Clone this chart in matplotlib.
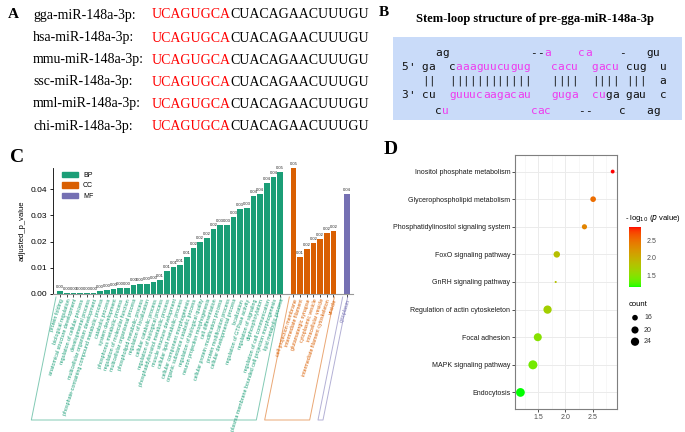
import numpy as np
import matplotlib
matplotlib.use('Agg')
import matplotlib.pyplot as plt
from matplotlib.colors import ListedColormap, Normalize
from matplotlib.patches import Rectangle, Patch

W, H = 685, 432

# ---- panel A: mature sequences
species = ['gga', 'hsa', 'mmu', 'ssc', 'mml', 'chi']
seed = 'UCAGUGCA'
rest = 'CUACAGAACUUUGU'

# ---- panel B: stem-loop rows (monospace columns) and pink column ranges
stem_rows = ["     ag" + " " * 12 + "--a" + " " * 4 + "ca" + " " * 4 + "-" + " " * 3 + "gu",
             "5' ga  caaaguucugug   cacu  gacu cug  u",
             "   ||  ||||||||||||   ||||  |||| |||  a",
             "3' cu  guuucaagacau   guga  cuga gau  c",
             "     cu" + " " * 12 + "cac" + " " * 4 + "--" + " " * 4 + "c" + " " * 3 + "ag"]
stem_pink = [[(21, 21), (26, 27)],
             [(8, 18), (22, 25), (28, 31)],
             [],
             [(7, 18), (22, 25), (28, 29)],
             [(6, 6), (19, 21)]]

# ---- panel C: GO enrichment
bp_terms = ['protein folding', 'biological regulation', 'anatomical structure development',
            'regulation of cellular process', 'developmental process',
            'multicellular organism development', 'phosphate-containing compound metabolic process',
            'catabolic process', 'system development', 'phosphorus metabolic process',
            'regulation of molecular function', 'multicellular organismal process',
            'phospholipid metabolic process', 'regulation of localization',
            'cellular catabolic process', 'regulation of biological process',
            'phosphatidylinositol metabolic process', 'muscle structure development',
            'cellular lipid metabolic process', 'cellular component morphogenesis',
            'organic substance catabolic process', 'regulation of biological quality',
            'neuron projection morphogenesis', 'cell differentiation',
            'cellular protein modification process', 'protein modification process',
            'cellular developmental process', 'localization', 'regulation of GTPase activity',
            'regulation of signaling', 'dephosphorylation', 'regulation of cell communication',
            'plasma membrane bounded cell projection morphogenesis', 'lipid metabolic process']
bp_vals = [0.0013, 0.0003, 0.0003, 0.0003, 0.0003, 0.0003, 0.0013, 0.0014, 0.0019, 0.0024,
           0.0024, 0.0036, 0.0037, 0.0040, 0.0045, 0.0055, 0.0089, 0.0102, 0.0110, 0.0140,
           0.0175, 0.0198, 0.0213, 0.0247, 0.0263, 0.0263, 0.0295, 0.0324, 0.0328, 0.0375,
           0.0383, 0.0425, 0.0448, 0.0466]
cc_terms = ['cell projection membrane', 'intermediate filament', 'glutamatergic synapse',
            'cytoplasmic vesicle', 'intracellular vesicle', 'intermediate filament cytoskeleton',
            'vesicle']
cc_vals = [0.0482, 0.0140, 0.0171, 0.0193, 0.0210, 0.0233, 0.0240]
mf_terms = ['cytoplasm']
mf_vals = [0.0380]

# ---- panel D: KEGG pathways (top to bottom)
pathways = ['Inositol phosphate metabolism', 'Glycerophospholipid metabolism',
            'Phosphatidylinositol signaling system', 'FoxO signaling pathway',
            'GnRH signaling pathway', 'Regulation of actin cytoskeleton', 'Focal adhesion',
            'MAPK signaling pathway', 'Endocytosis']
neglogp = [2.87, 2.51, 2.35, 1.84, 1.82, 1.67, 1.49, 1.40, 1.17]
counts = [13, 16, 15, 18, 12, 24, 23, 27, 26]
count_breaks = [16, 20, 24]

plt.rcParams['font.family'] = ['Liberation Sans', 'DejaVu Sans']
SERIF = ['Liberation Serif', 'DejaVu Serif']


def fx(x):
    return x / W


def fy(y):
    return 1 - y / H


fig = plt.figure(figsize=(6.85, 4.32), dpi=100)

# ================= A
fig.text(fx(8), fy(15), 'A', family=SERIF, weight='bold', fontsize=11, va='center')
row_y = [15, 38, 60, 82, 104, 126]
for sp, y in zip(species, row_y):
    fig.text(fx(33), fy(y), sp + '-miR-148a-3p:', family=SERIF, fontsize=10, va='center')
    t = fig.text(fx(151.5), fy(y), seed, family=SERIF, fontsize=10, va='center', color='#ff0000')
    # black remainder continues right after the red seed
    fig.add_artist(matplotlib.text.Annotation(rest, xy=(1, 0), xycoords=t, va='bottom',
                                              ha='left', family=SERIF, fontsize=10))

# ================= B
fig.text(fx(379), fy(12), 'B', family=SERIF, weight='bold', fontsize=11, va='center')
fig.text(fx(535), fy(19), 'Stem-loop structure of pre-gga-miR-148a-3p', family=SERIF,
         weight='bold', fontsize=9, ha='center', va='center')
fig.add_artist(Rectangle((fx(393), fy(120)), (682 - 393) / W, (120 - 37) / H,
                         transform=fig.transFigure, facecolor='#c9dbf9', edgecolor='none'))
x0, cw = 401.3, 6.8
base_y = [56, 70, 84, 97.7, 114]
for row, pinks, by in zip(stem_rows, stem_pink, base_y):
    for i, ch in enumerate(row):
        if ch == ' ':
            continue
        pink = any(a <= i <= b for a, b in pinks)
        fig.text(fx(x0 + (i + 0.5) * cw), fy(by), ch, family='DejaVu Sans Mono', fontsize=8,
                 ha='center', va='baseline', color='#ee3bee' if pink else '#111111')

# ================= C
fig.text(fx(10), fy(157), 'C', family=SERIF, weight='bold', fontsize=14, va='center')
axc = fig.add_axes([fx(53), fy(294), 300 / W, 126 / H])
groups = [(bp_terms, bp_vals, '#1b9e77', 'BP'), (cc_terms, cc_vals, '#d95f02', 'CC'),
          (mf_terms, mf_vals, '#7570b3', 'MF')]
pos_all, lab_all, col_all = [], [], []
start = 0
spans = []
for terms, vals, col, name in groups:
    pos = np.arange(start, start + len(vals))
    axc.bar(pos, vals, width=0.85, color=col, edgecolor='none')
    for p, v in zip(pos, vals):
        axc.annotate('%.2f' % v, (p, v), xytext=(0, 1.5), textcoords='offset points',
                     ha='center', va='bottom', fontsize=3, color='#222222', annotation_clip=False)
    pos_all += list(pos)
    lab_all += terms
    col_all += [col] * len(terms)
    spans.append((pos[0], pos[-1], col))
    start = pos[-1] + 2
xl = (-1.05, pos_all[-1] + 0.95)
axc.set_xlim(xl)
axc.set_ylim(0, 0.0481)
axc.set_xticks(pos_all)
axc.set_xticklabels(lab_all, rotation=72, ha='right', rotation_mode='anchor', fontsize=3.8)
for lbl, c in zip(axc.get_xticklabels(), col_all):
    lbl.set_color(c)
axc.set_yticks([0, 0.01, 0.02, 0.03, 0.04])
axc.set_yticklabels(['0.00', '0.01', '0.02', '0.03', '0.04'], fontsize=6)
axc.tick_params(axis='x', length=2, width=0.5, pad=1)
axc.tick_params(axis='y', length=2.5, width=0.6, pad=1.5)
for s in ['top', 'right']:
    axc.spines[s].set_visible(False)
axc.spines['left'].set_linewidth(0.6)
axc.spines['bottom'].set_color('#999999')
axc.set_ylabel('adjusted_p_value', fontsize=5.5, labelpad=4)
axc.legend(handles=[Patch(color=g[2], label=g[3]) for g in groups], loc='upper left',
           bbox_to_anchor=(0.01, 1.02), fontsize=5, frameon=False, handlelength=2.2,
           handleheight=0.9, labelspacing=0.45)
# slanted group brackets under the labels
span_x = xl[1] - xl[0]
top_y = -3 / 126
bot_y = -(420 - 294) / 126
shift = 3.7 / span_x
for a, b, col in spans:
    l = (a - 0.6 - xl[0]) / span_x
    r = (b + 0.15 - xl[0]) / span_x
    axc.plot([l, l - shift, r - shift, r], [top_y, bot_y, bot_y, top_y], color=col,
             alpha=0.55, lw=0.7, transform=axc.transAxes, clip_on=False)

# ================= D
fig.text(fx(384), fy(150), 'D', family=SERIF, weight='bold', fontsize=14, va='center')


def lab_ramp(c1, c2, n=256):
    def to_lin(c):
        return np.where(c <= 0.04045, c / 12.92, ((c + 0.055) / 1.055) ** 2.4)

    M = np.array([[0.4124, 0.3576, 0.1805], [0.2126, 0.7152, 0.0722], [0.0193, 0.1192, 0.9505]])
    wp = np.array([0.95047, 1.0, 1.08883])

    def to_lab(c):
        xyz = M @ to_lin(np.array(c)) / wp
        f = np.where(xyz > 0.008856, np.cbrt(xyz), 7.787 * xyz + 16 / 116)
        return np.array([116 * f[1] - 16, 500 * (f[0] - f[1]), 200 * (f[1] - f[2])])

    la, lb = to_lab(c1), to_lab(c2)
    t = np.linspace(0, 1, n)[:, None]
    lab = la + t * (lb - la)
    fy_ = (lab[:, 0] + 16) / 116
    fxx = fy_ + lab[:, 1] / 500
    fz = fy_ - lab[:, 2] / 200
    f = np.stack([fxx, fy_, fz], 1)
    xyz = np.where(f > 0.206893, f ** 3, (f - 16 / 116) / 7.787) * wp
    lin = xyz @ np.linalg.inv(M).T
    lin = np.clip(lin, 0, 1)
    srgb = np.where(lin <= 0.0031308, 12.92 * lin, 1.055 * lin ** (1 / 2.4) - 0.055)
    return ListedColormap(np.clip(srgb, 0, 1))


cmap = lab_ramp([0, 1, 0], [1, 0, 0])
norm = Normalize(min(neglogp), max(neglogp))


def dot_size(c):
    d = 2.1 + 1.78 * np.sqrt(np.maximum(np.asarray(c, float) - 12, 0))
    return (d * 72 / 100) ** 2


axd = fig.add_axes([fx(515), fy(409), 102 / W, 254 / H])
ypos = np.arange(len(pathways))[::-1]
axd.scatter(neglogp, ypos, s=dot_size(counts), c=neglogp, cmap=cmap, norm=norm,
            edgecolors='none', zorder=3)
axd.set_xlim(1.07, 2.95)
axd.set_ylim(-0.6, len(pathways) - 0.4)
axd.set_yticks(ypos)
axd.set_yticklabels(pathways, fontsize=5, color='#1a1a1a')
axd.set_xticks([1.5, 2.0, 2.5])
axd.set_xticklabels(['1.5', '2.0', '2.5'], fontsize=5, color='#4d4d4d')
axd.set_xticks([1.25, 1.75, 2.25, 2.75], minor=True)
axd.tick_params(which='major', length=2, width=0.6, color='#333333', pad=1.5)
axd.tick_params(which='minor', length=0)
axd.grid(which='major', color='#ebebeb', lw=0.7, zorder=0)
axd.grid(which='minor', axis='x', color='#f2f2f2', lw=0.4, zorder=0)
axd.set_axisbelow(True)
for s in axd.spines.values():
    s.set_color('#7f7f7f')
    s.set_linewidth(0.8)

# colour bar
cax = fig.add_axes([fx(629), fy(287), 12 / W, 60 / H])
cb = fig.colorbar(plt.cm.ScalarMappable(norm=norm, cmap=cmap), cax=cax)
cb.outline.set_visible(False)
cb.set_ticks([1.5, 2.0, 2.5])
cb.ax.tick_params(labelsize=5, length=2, color='white', width=0.5, pad=2, labelcolor='#4d4d4d')
fig.text(fx(625), fy(218), r'- log$_{10}$ ($p$ value)', fontsize=5.5, va='center')

# count legend
fig.text(fx(629), fy(305), 'count', fontsize=5.5, va='center')
leg_y = [317.7, 330, 341.7]
for c, y in zip(count_breaks, leg_y):
    axd.scatter([fx(635)], [fy(y)], s=dot_size(c), color='black', edgecolors='none',
                transform=fig.transFigure, clip_on=False)
    fig.text(fx(644), fy(y), str(c), fontsize=5, va='center', color='#333333')

fig.savefig('out.png', dpi=100)
